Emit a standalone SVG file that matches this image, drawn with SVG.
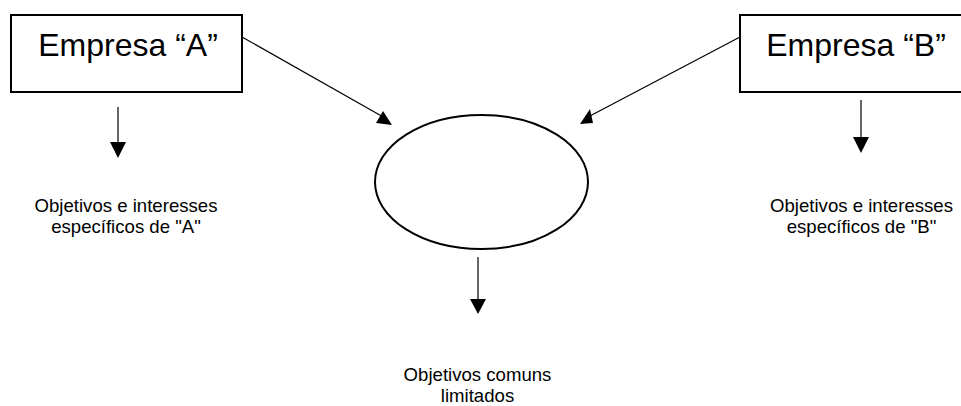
<svg xmlns="http://www.w3.org/2000/svg" width="961" height="406" viewBox="0 0 961 406">
  <style>
    .box { fill: #ffffff; stroke: #000000; stroke-width: 2; }
    .ell { fill: #ffffff; stroke: #000000; stroke-width: 2; }
    .ln { fill: none; stroke: #000000; stroke-width: 1.2; }
    .head { fill: #000000; stroke: none; }
    .title { font-family: "Liberation Sans", Arial, sans-serif; font-size: 32px; fill: #000000; text-anchor: middle; }
    .lbl { font-family: "Liberation Sans", Arial, sans-serif; font-size: 18.6px; fill: #000000; text-anchor: middle; }
  </style>
  <rect width="961" height="406" fill="#ffffff"/>

  <g id="connectors">
    <!-- Empresa A to common area -->
    <line class="ln" x1="242" y1="37" x2="385" y2="118"/>
    <polygon class="head" points="392,125 376,123 383,111"/>
    <!-- Empresa B to common area -->
    <line class="ln" x1="740" y1="37" x2="588" y2="117"/>
    <polygon class="head" points="580,124 593,123 590,109"/>
    <!-- Empresa A down -->
    <line class="ln" x1="118" y1="107" x2="118" y2="143"/>
    <polygon class="head" points="110,142 126,142 118,158"/>
    <!-- Empresa B down -->
    <line class="ln" x1="861" y1="100" x2="861" y2="138"/>
    <polygon class="head" points="853,137 869,137 861,153"/>
    <!-- Common area down -->
    <line class="ln" x1="478" y1="257" x2="478" y2="300"/>
    <polygon class="head" points="470,299 486,299 478,314"/>
  </g>

  <g id="empresa-a">
    <rect class="box" x="11" y="15" width="231" height="77"/>
    <text class="title" x="128" y="56">Empresa “A”</text>
  </g>

  <g id="empresa-b">
    <rect class="box" x="740" y="15" width="231" height="77"/>
    <text class="title" x="856" y="56">Empresa “B”</text>
  </g>

  <g id="common">
    <ellipse class="ell" cx="481.5" cy="182" rx="106.5" ry="67"/>
  </g>

  <g id="label-a">
    <text class="lbl" x="126" y="212">Objetivos e interesses</text>
    <text class="lbl" x="126" y="233">específicos de "A"</text>
  </g>

  <g id="label-b">
    <text class="lbl" x="861.5" y="212">Objetivos e interesses</text>
    <text class="lbl" x="861.5" y="233">específicos de "B"</text>
  </g>

  <g id="label-common">
    <text class="lbl" x="477.5" y="381">Objetivos comuns</text>
    <text class="lbl" x="477.5" y="402">limitados</text>
  </g>
</svg>
